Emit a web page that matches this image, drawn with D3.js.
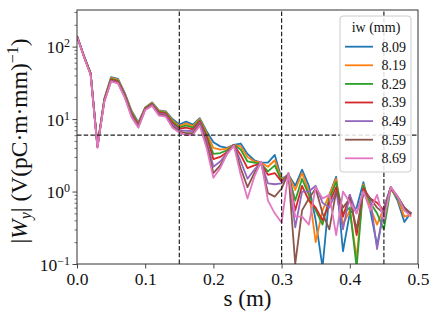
<!DOCTYPE html>
<html>
<head>
<meta charset="utf-8">
<script src="https://cdn.jsdelivr.net/npm/d3@7"></script>
<style>
  html, body { margin: 0; padding: 0; background: #fff; }
  svg text { font-family: "Liberation Serif", "DejaVu Serif", serif; fill: #111; }
</style>
</head>
<body>
<div id="chart"></div>
<script>
// positions along the structure (m)
const sValues = [
  0.00, 0.01, 0.02, 0.03, 0.04, 0.05, 0.06, 0.07, 0.08, 0.09,
  0.10, 0.11, 0.12, 0.13, 0.14, 0.15, 0.16, 0.17, 0.18, 0.19,
  0.20, 0.21, 0.22, 0.23, 0.24, 0.25, 0.26, 0.27, 0.28, 0.29,
  0.30, 0.31, 0.32, 0.33, 0.34, 0.35, 0.36, 0.37, 0.38, 0.39,
  0.40, 0.41, 0.42, 0.43, 0.44, 0.45, 0.46, 0.47, 0.48, 0.49
];

// |Wy| per iris width
const w809 = [
  140, 75, 43, 4.3, 19, 38, 36, 23, 13, 9.0,
  14.5, 17, 13.2, 12.8, 10.0, 8.4, 9.2, 8.4, 10.3, 6.8,
  4.8, 4.2, 4.0, 4.4, 4.6, 3.3, 2.7, 2.5, 2.5, 3.2,
  1.5, 1.7, 1.2, 2.0, 1.2, 0.4, 0.09, 0.9, 1.6, 0.15,
  0.5, 0.6, 1.35, 0.55, 0.18, 0.55, 1.15, 0.75, 0.38, 0.52
];
const w819 = [
  140, 75, 43, 4.3, 18.7, 37, 35, 22.5, 12.6, 8.7,
  14.3, 16.7, 13.0, 12.5, 9.6, 8.0, 8.7, 8.0, 10.0, 6.4,
  4.0, 3.8, 3.9, 4.4, 4.2, 3.0, 2.6, 2.5, 2.2, 2.7,
  1.45, 1.7, 1.05, 1.8, 1.0, 0.2, 0.55, 0.9, 1.5, 0.35,
  0.55, 0.12, 1.25, 0.6, 0.35, 0.6, 1.1, 0.8, 0.45, 0.48
];
const w829 = [
  140, 75, 42.5, 4.2, 18.4, 36, 34, 22, 12.2, 8.5,
  14.1, 16.4, 12.7, 12.2, 9.2, 7.6, 8.2, 7.6, 9.6, 6.0,
  3.3, 3.4, 3.7, 4.4, 3.8, 2.6, 2.5, 2.4, 1.9, 2.3,
  1.4, 1.7, 0.75, 1.5, 0.9, 0.55, 0.35, 0.8, 1.35, 0.5,
  0.6, 0.09, 1.2, 0.7, 0.5, 0.3, 1.1, 0.8, 0.55, 0.5
];
const w839 = [
  140, 74, 42, 4.2, 18.1, 35, 33, 21.5, 11.8, 8.3,
  13.9, 16.1, 12.4, 11.9, 8.8, 7.3, 7.6, 7.2, 9.3, 5.6,
  2.8, 3.0, 3.5, 4.4, 3.2, 2.1, 2.3, 2.4, 1.7, 1.8,
  1.37, 1.7, 0.55, 1.2, 0.75, 0.6, 0.4, 0.7, 1.15, 0.45,
  0.9, 0.25, 1.1, 0.8, 0.7, 0.55, 1.1, 0.85, 0.6, 0.5
];
const w849 = [
  139, 74, 41.5, 4.1, 17.8, 34, 32, 21, 11.4, 8.0,
  13.7, 15.8, 12.0, 11.5, 8.4, 7.0, 6.9, 6.8, 8.9, 5.0,
  2.2, 2.6, 3.4, 4.4, 2.6, 1.5, 2.0, 2.5, 1.3, 1.26,
  1.3, 1.75, 0.32, 1.0, 1.0, 1.2, 0.7, 0.6, 1.0, 0.3,
  0.9, 0.5, 1.0, 0.8, 0.16, 0.6, 1.15, 0.85, 0.6, 0.5
];
const w859 = [
  139, 73, 41, 4.1, 17.5, 33.5, 31.5, 20.3, 11.0, 7.8,
  13.5, 15.5, 11.6, 11.1, 8.0, 6.7, 6.4, 6.4, 8.5, 4.5,
  1.8, 2.3, 3.3, 4.4, 2.1, 1.15, 1.8, 2.5, 0.95, 0.85,
  1.1, 1.8, 0.1, 0.55, 0.8, 1.1, 0.5, 0.3, 1.0, 0.6,
  0.8, 0.3, 1.0, 0.8, 0.6, 0.5, 1.15, 0.85, 0.6, 0.48
];
const w869 = [
  138, 73, 40.5, 4.0, 17.2, 33, 31, 19.7, 10.6, 7.6,
  13.3, 15.2, 11.2, 10.8, 7.6, 6.5, 6.0, 6.1, 8.1, 4.0,
  1.55, 2.1, 3.3, 4.3, 1.7, 0.8, 1.6, 2.6, 0.75, 0.5,
  0.37, 1.8, 0.45, 0.45, 0.35, 1.15, 0.8, 0.9, 0.25, 1.0,
  0.7, 0.5, 1.0, 0.55, 0.9, 0.4, 1.15, 0.85, 0.55, 0.45
];

const seriesNames = ['8.09', '8.19', '8.29', '8.39', '8.49', '8.59', '8.69'];
const seriesValues = [w809, w819, w829, w839, w849, w859, w869];
const colors = ['#1f77b4', '#ff7f0e', '#2ca02c', '#d62728', '#9467bd', '#8c564b', '#e377c2'];

const xTicks = [0, 0.1, 0.2, 0.3, 0.4, 0.5];
const yTicks = [0.1, 1, 10, 100];
const yTickExp = ['\u22121', '0', '1', '2'];
const vLines = [0.15, 0.30, 0.45];
const hLine = 6.0;

const width = 436, height = 321,
  margin = {left: 77, right: 18, top: 10, bottom: 57};

const x = d3.scaleLinear().domain([0, 0.5])
  .range([margin.left, width - margin.right]);
const y = d3.scaleLog().domain([0.1, 320])
  .range([height - margin.bottom, margin.top]);

const svg = d3.select('#chart').append('svg')
  .attr('width', width)
  .attr('height', height);

svg.append('clipPath').attr('id', 'plot-clip')
  .append('rect')
  .attr('x', x(0)).attr('y', y.range()[1])
  .attr('width', x(0.5) - x(0))
  .attr('height', y.range()[0] - y.range()[1]);

const plot = svg.append('g').attr('clip-path', 'url(#plot-clip)');

const line = d3.line()
  .x((d, i) => x(sValues[i]))
  .y(d => y(d));

seriesValues.forEach((vals, i) => {
  plot.append('path')
    .datum(vals)
    .attr('d', line)
    .attr('fill', 'none')
    .attr('stroke', colors[i])
    .attr('stroke-width', 1.8)
    .attr('stroke-linejoin', 'round');
});

// reference lines
vLines.forEach(v => {
  plot.append('line')
    .attr('x1', x(v)).attr('x2', x(v))
    .attr('y1', y.range()[0]).attr('y2', y.range()[1])
    .attr('stroke', '#222').attr('stroke-width', 1.2)
    .attr('stroke-dasharray', '4.5,2.2');
});
plot.append('line')
  .attr('x1', x(0)).attr('x2', x(0.5))
  .attr('y1', y(hLine)).attr('y2', y(hLine))
  .attr('stroke', '#222').attr('stroke-width', 1.2)
  .attr('stroke-dasharray', '4.5,2.2');

// x axis
const xAxis = svg.append('g')
  .attr('transform', 'translate(0,' + y.range()[0] + ')')
  .call(d3.axisBottom(x).tickValues(xTicks).tickSize(4.5).tickPadding(4)
    .tickFormat(d3.format('.1f')));
xAxis.select('.domain').remove();
xAxis.selectAll('line').attr('stroke', '#333').attr('stroke-width', 0.9);
xAxis.selectAll('text')
  .style('font-family', '"Liberation Serif", serif')
  .attr('font-size', 17.5).attr('fill', '#222');

// y axis minor ticks
const minor = [];
for (let e = -1; e <= 2; e++) {
  for (let m = 2; m <= 9; m++) {
    const v = m * Math.pow(10, e);
    if (v <= 320) minor.push(v);
  }
}
const yMinor = svg.append('g')
  .attr('transform', 'translate(' + x(0) + ',0)')
  .call(d3.axisLeft(y).tickValues(minor).tickSize(2.5).tickFormat(''));
yMinor.select('.domain').remove();
yMinor.selectAll('line').attr('stroke', '#333').attr('stroke-width', 0.7);

// y axis major ticks with power labels
const yAxis = svg.append('g')
  .attr('transform', 'translate(' + x(0) + ',0)')
  .call(d3.axisLeft(y).tickValues(yTicks).tickSize(4.5).tickFormat(''));
yAxis.select('.domain').remove();
yAxis.selectAll('line').attr('stroke', '#333').attr('stroke-width', 0.9);
yAxis.selectAll('.tick').each(function(d, i) {
  const t = d3.select(this).append('text')
    .attr('x', -7).attr('dy', '0.36em')
    .attr('text-anchor', 'end')
    .attr('font-size', 17.5).attr('fill', '#222')
    .style('font-family', '"Liberation Serif", serif');
  t.append('tspan').text('10');
  t.append('tspan').attr('dy', '-0.5em').attr('font-size', 12).text(yTickExp[i]);
});

// frame
svg.append('rect')
  .attr('x', x(0)).attr('y', y.range()[1])
  .attr('width', x(0.5) - x(0))
  .attr('height', y.range()[0] - y.range()[1])
  .attr('fill', 'none').attr('stroke', '#333').attr('stroke-width', 1);

// axis labels
svg.append('text')
  .attr('x', (x(0) + x(0.5)) / 2).attr('y', 306)
  .attr('text-anchor', 'middle').attr('font-size', 23)
  .text('s (m)');

const yl = svg.append('text')
  .attr('transform', 'translate(27,' + ((y.range()[0] + y.range()[1]) / 2 + 4) + ') rotate(-90)')
  .attr('text-anchor', 'middle').attr('font-size', 23.5);
yl.append('tspan').text('|');
yl.append('tspan').attr('font-style', 'italic').text('W');
yl.append('tspan').attr('font-style', 'italic').attr('font-size', 16).attr('dy', '0.25em').text('y');
yl.append('tspan').attr('dy', '-0.17em').text('| (V(pC\u00b7m\u00b7mm)');
yl.append('tspan').attr('font-size', 16).attr('dy', '-0.55em').text('\u22121');
yl.append('tspan').attr('dy', '0.37em').text(')');

// legend
const lg = svg.append('g').attr('transform', 'translate(340,16)');
lg.append('rect')
  .attr('width', 71).attr('height', 156).attr('rx', 3)
  .attr('fill', '#fff').attr('fill-opacity', 0.85)
  .attr('stroke', '#ccc').attr('stroke-width', 1);
lg.append('text')
  .attr('x', 36).attr('y', 16)
  .attr('text-anchor', 'middle').attr('font-size', 14)
  .text('iw (mm)');
seriesNames.forEach((name, i) => {
  const ly = 30.7 + i * 18.6;
  lg.append('line')
    .attr('x1', 5).attr('x2', 33)
    .attr('y1', ly).attr('y2', ly)
    .attr('stroke', colors[i]).attr('stroke-width', 1.8);
  lg.append('text')
    .attr('x', 66).attr('y', ly).attr('dy', '0.35em')
    .attr('text-anchor', 'end').attr('font-size', 14)
    .text(name);
});
</script>
</body>
</html>
